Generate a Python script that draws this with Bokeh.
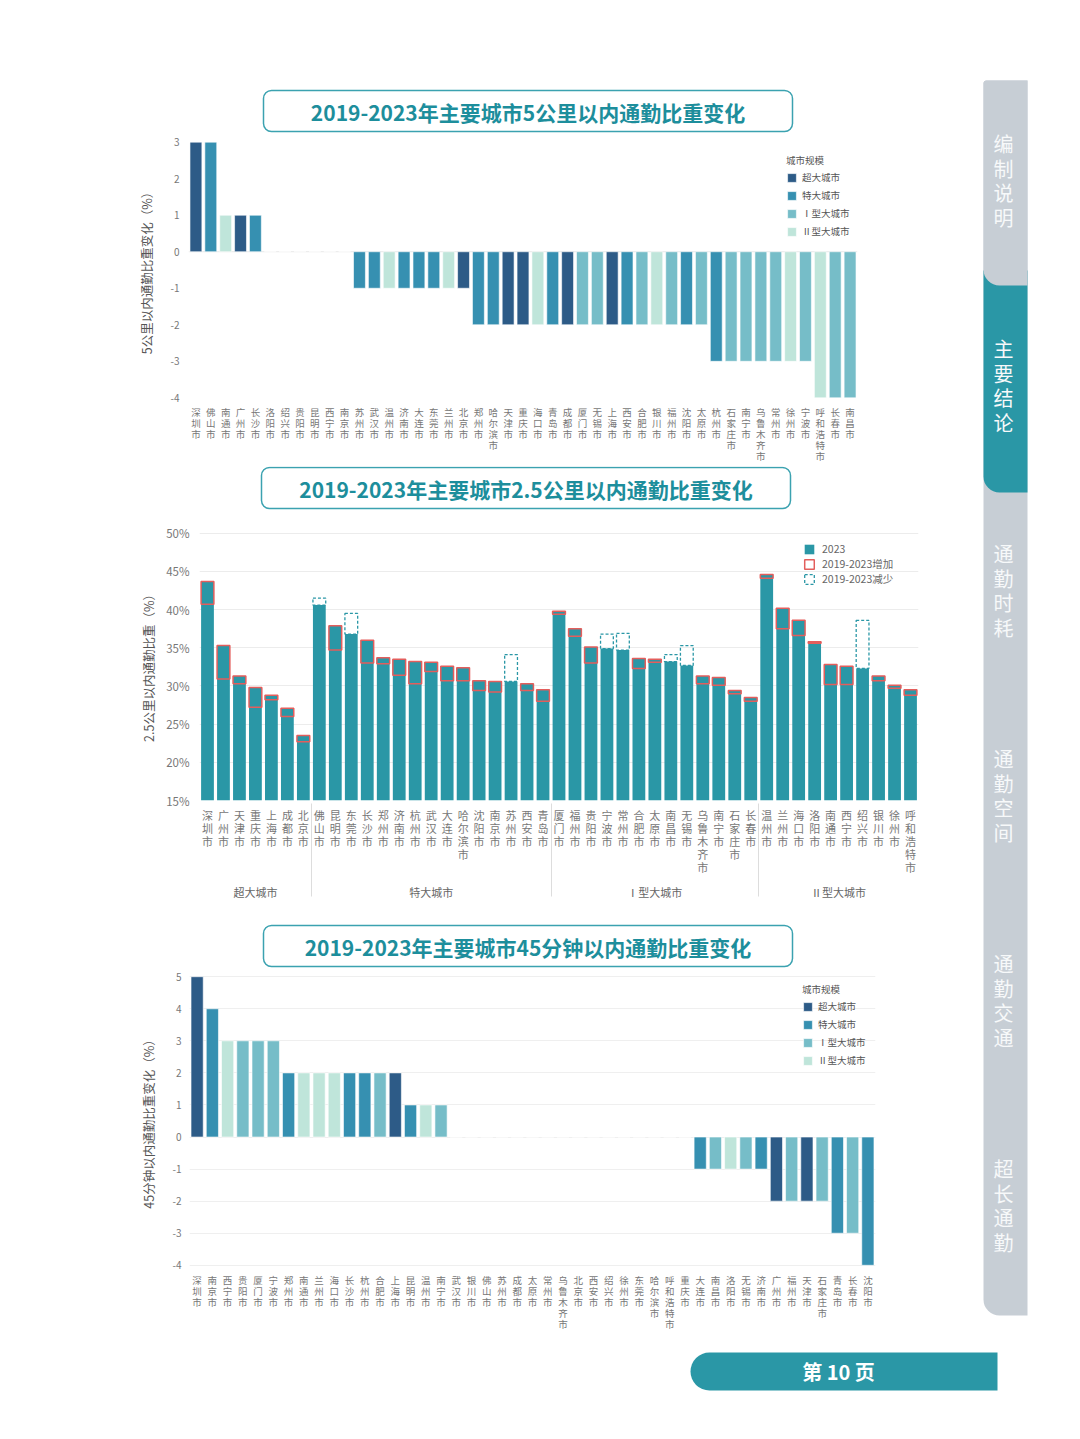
from bokeh.plotting import figure
from bokeh.models import (ColumnDataSource, CDSView, GroupFilter, BooleanFilter, FactorRange,
                          Range1d, SingleIntervalTicker, PrintfTickFormatter, Span)
from bokeh.layouts import column, row
from bokeh.embed import file_html
from bokeh.resources import INLINE
from bokeh.core.properties import value

FONT = "Noto Sans CJK SC"

# ---------------- data ----------------
SCALE_NAMES = ["超大城市", "特大城市", "Ⅰ型大城市", "Ⅱ型大城市"]
SCALE_COLORS = ["#2d5b87", "#3690b1", "#76bdc8", "#bfe5da"]

# chart 2 (2.5 km share, %), grouped by city scale
mega_cities = ["深圳市", "广州市", "天津市", "重庆市", "上海市", "成都市", "北京市"]
mega_2023 = [43.7, 35.3, 31.3, 29.8, 28.8, 27.1, 23.5]
mega_2019 = [40.7, 30.9, 30.3, 27.2, 28.2, 26.0, 22.7]
super_cities = ["佛山市", "昆明市", "东莞市", "长沙市", "郑州市", "济南市", "杭州市", "武汉市",
                "大连市", "哈尔滨市", "沈阳市", "南京市", "苏州市", "西安市", "青岛市"]
super_2023 = [40.6, 37.9, 36.8, 36.0, 33.7, 33.5, 33.2, 33.1, 32.6, 32.4, 30.7, 30.6, 30.6, 30.3, 29.5]
super_2019 = [41.5, 34.7, 39.5, 33.0, 32.9, 31.4, 30.3, 31.9, 30.7, 30.7, 29.4, 29.2, 34.1, 29.4, 28.0]
type1_cities = ["厦门市", "福州市", "贵阳市", "宁波市", "常州市", "合肥市", "太原市", "南昌市",
                "无锡市", "乌鲁木齐市", "南宁市", "石家庄市", "长春市"]
type1_2023 = [39.8, 37.5, 35.1, 34.9, 34.7, 33.6, 33.5, 33.2, 32.7, 31.3, 31.1, 29.4, 28.5]
type1_2019 = [39.4, 36.5, 33.0, 36.8, 36.9, 32.3, 33.1, 34.1, 35.3, 30.3, 30.1, 29.0, 28.0]
type2_cities = ["温州市", "兰州市", "海口市", "洛阳市", "南通市", "西宁市", "绍兴市", "银川市",
                "徐州市", "呼和浩特市"]
type2_2023 = [44.6, 40.2, 38.6, 35.8, 32.8, 32.6, 32.3, 31.3, 30.1, 29.5]
type2_2019 = [44.1, 37.5, 36.6, 35.6, 30.2, 30.2, 38.6, 30.7, 29.7, 28.8]

# chart 1 (5 km share change, percentage points)
cities1 = ["深圳市", "佛山市", "南通市", "广州市", "长沙市", "洛阳市", "绍兴市", "贵阳市", "昆明市",
           "西宁市", "南京市", "苏州市", "武汉市", "温州市", "济南市", "大连市", "东莞市", "兰州市",
           "北京市", "郑州市", "哈尔滨市", "天津市", "重庆市", "海口市", "青岛市", "成都市", "厦门市",
           "无锡市", "上海市", "西安市", "合肥市", "银川市", "福州市", "沈阳市", "太原市", "杭州市",
           "石家庄市", "南宁市", "乌鲁木齐市", "常州市", "徐州市", "宁波市", "呼和浩特市", "长春市", "南昌市"]
values1 = [3, 3, 1, 1, 1, 0, 0, 0, 0, 0, 0,
           -1, -1, -1, -1, -1, -1, -1, -1,
           -2, -2, -2, -2, -2, -2, -2, -2, -2, -2, -2, -2, -2, -2, -2, -2,
           -3, -3, -3, -3, -3, -3, -3,
           -4, -4, -4]

# chart 3 (45 min share change, percentage points)
cities3 = ["深圳市", "南京市", "西宁市", "贵阳市", "厦门市", "宁波市", "郑州市", "南通市", "兰州市",
           "海口市", "长沙市", "杭州市", "合肥市", "上海市", "昆明市", "温州市", "南宁市", "武汉市",
           "银川市", "佛山市", "苏州市", "成都市", "太原市", "常州市", "乌鲁木齐市", "北京市", "西安市",
           "绍兴市", "徐州市", "东莞市", "哈尔滨市", "呼和浩特市", "重庆市", "大连市", "南昌市", "洛阳市",
           "无锡市", "济南市", "广州市", "福州市", "天津市", "石家庄市", "青岛市", "长春市", "沈阳市"]
values3 = [5, 4, 3, 3, 3, 3, 2, 2, 2, 2, 2, 2, 2, 2, 1, 1, 1,
           0, 0, 0, 0, 0, 0, 0, 0, 0, 0, 0, 0, 0, 0, 0, 0,
           -1, -1, -1, -1, -1, -2, -2, -2, -2, -3, -3, -4]

GROUPS = [(SCALE_NAMES[0], mega_cities, mega_2023, mega_2019),
          (SCALE_NAMES[1], super_cities, super_2023, super_2019),
          (SCALE_NAMES[2], type1_cities, type1_2023, type1_2019),
          (SCALE_NAMES[3], type2_cities, type2_2023, type2_2019)]
SCALE_OF = {c: g for g, cs, _, _ in GROUPS for c in cs}

# ---------------- style ----------------
TEAL = "#2a97a6"
TITLE_TEAL = "#1d8e9c"
RED = "#e35e5c"
GREY_TXT = "#777777"
LW = 975  # left column width


def stack(s):
    return "\n".join(s)


def decor_fig(w, h, x0, x1, y0, y1):
    p = figure(width=w, height=h, x_range=Range1d(x0, x1), y_range=Range1d(y1, y0),
               output_backend="svg", toolbar_location=None,
               x_axis_location=None, y_axis_location=None,
               min_border=0, min_border_left=0, min_border_right=0,
               min_border_top=0, min_border_bottom=0)
    p.grid.visible = False
    p.outline_line_color = None
    p.background_fill_color = "white"
    p.border_fill_color = "white"
    return p


def title_fig(y0, y1, box_left, box_top, text):
    p = decor_fig(LW, y1 - y0, 0, LW, y0, y1)
    p.quad(left=box_left, right=box_left + 529, top=box_top, bottom=box_top + 41,
           fill_color="white", line_color="#3ba2b0", line_width=1.5, border_radius=8)
    p.text(x=[box_left + 264.5], y=[box_top + 21], text=[text], text_align="center",
           text_baseline="middle", text_font=value(FONT), text_font_style="bold",
           text_font_size="21px", text_color=TITLE_TEAL)
    return p


def style_axes(p, ylabel, tick_size, lab_standoff, maj_standoff, x_standoff, x_size, x_lh):
    for ax in p.axis:
        ax.axis_line_color = None
        ax.major_tick_line_color = None
        ax.minor_tick_line_color = None
        ax.major_tick_out = 0
        ax.major_label_text_font = FONT
        ax.major_label_text_color = GREY_TXT
    p.yaxis.major_label_text_font_size = tick_size
    p.yaxis.major_label_standoff = maj_standoff
    p.yaxis.axis_label = ylabel
    p.yaxis.axis_label_text_font = FONT
    p.yaxis.axis_label_text_font_size = "12.5px"
    p.yaxis.axis_label_text_font_style = "normal"
    p.yaxis.axis_label_text_color = "#555555"
    p.yaxis.axis_label_standoff = lab_standoff
    p.xaxis.major_label_text_font_size = x_size
    p.xaxis.major_label_text_line_height = x_lh
    p.xaxis.major_label_standoff = x_standoff
    p.xaxis.major_label_orientation = "horizontal"
    p.xgrid.visible = False
    p.outline_line_color = None


def style_scale_legend(p, loc):
    lg = p.legend[0]
    lg.title = "城市规模"
    lg.title_text_font = FONT
    lg.title_text_font_size = "9.5px"
    lg.title_text_font_style = "normal"
    lg.title_text_color = "#555555"
    lg.title_standoff = 3
    lg.label_text_font = FONT
    lg.label_text_font_size = "9.5px"
    lg.label_text_color = "#555555"
    lg.glyph_width = 11
    lg.glyph_height = 11
    lg.label_height = 11
    lg.label_standoff = 5
    lg.spacing = 4
    lg.padding = 4
    lg.margin = 0
    lg.location = loc
    lg.background_fill_alpha = 0
    lg.border_line_color = None


def scale_bar_chart(cities, values, yr, h, bl, br, bt, bb, loc):
    xs = [stack(c) for c in cities]
    src = ColumnDataSource(dict(x=xs, val=values, scale=[SCALE_OF[c] for c in cities]))
    p = figure(width=LW, height=h, x_range=FactorRange(factors=xs), y_range=Range1d(*yr),
               output_backend="svg", toolbar_location=None,
               min_border_left=bl, min_border_right=br, min_border_top=bt, min_border_bottom=bb)
    for name, col in zip(SCALE_NAMES, SCALE_COLORS):
        p.vbar(x="x", top="val", bottom=0, width=0.8, source=src,
               view=CDSView(filter=GroupFilter(column_name="scale", group=name)),
               fill_color=col, line_color="white", line_width=0.6, legend_label=name)
    p.yaxis.ticker = SingleIntervalTicker(interval=1)
    p.yaxis.formatter = PrintfTickFormatter(format="%d")
    style_scale_legend(p, loc)
    return p


# ---------------- chart 1 ----------------
t1 = title_fig(0, 134, 263, 90, "2019-2023年主要城市5公里以内通勤比重变化")
p1 = scale_bar_chart(cities1, values1, (-4.1, 3.1), 332, 188, 118, 4, 61, (598, 163))
style_axes(p1, "5公里以内通勤比重变化（%）", "10px", 11, 5, 3, "9.5px", 0.8)
p1.ygrid.visible = False
p1.add_layout(Span(location=0, dimension="width", line_color="#e8e8e8", line_width=1, level="underlay"))

# ---------------- chart 2 ----------------
t2 = title_fig(466, 522, 261, 467, "2019-2023年主要城市2.5公里以内通勤比重变化")
x2, v23, v19 = [], [], []
for g, cs, a, b in GROUPS:
    x2 += [(g, stack(c)) for c in cs]
    v23 += a
    v19 += b
src2 = ColumnDataSource(dict(x=x2, v23=v23, v19=v19))
p2 = figure(width=LW, height=383,
            x_range=FactorRange(factors=x2, group_padding=0, factor_padding=0, range_padding=0),
            y_range=Range1d(15, 50.5), output_backend="svg", toolbar_location=None,
            min_border_left=199, min_border_right=57, min_border_top=7, min_border_bottom=105)
p2.vbar(x="x", top="v23", bottom=0, width=0.8, source=src2, fill_color=TEAL,
        line_color=None, legend_label="2023")
inc = [a > b for a, b in zip(v23, v19)]
dec = [a < b for a, b in zip(v23, v19)]
p2.vbar(x="x", top="v23", bottom="v19", width=0.8, source=src2,
        view=CDSView(filter=BooleanFilter(inc)), fill_color=None, line_color=RED,
        line_width=1.5, legend_label="2019-2023增加")
p2.vbar(x="x", top="v19", bottom="v23", width=0.8, source=src2,
        view=CDSView(filter=BooleanFilter(dec)), fill_color=None, line_color=TEAL,
        line_width=1.3, line_dash="3 2", legend_label="2019-2023减少")
p2.yaxis.ticker = SingleIntervalTicker(interval=5)
p2.yaxis.formatter = PrintfTickFormatter(format="%d%%")
style_axes(p2, "2.5公里以内通勤比重（%）", "11.5px", 5, 6, 6, "11px", 0.82)
p2.ygrid.grid_line_color = "#ececec"
p2.xaxis.group_text_font = FONT
p2.xaxis.group_text_font_size = "11px"
p2.xaxis.group_text_font_style = "normal"
p2.xaxis.group_text_color = "#666666"
p2.xaxis.group_label_orientation = "horizontal"
p2.xaxis.separator_line_color = "#dddddd"
p2.xaxis.separator_line_width = 1
lg2 = p2.legend[0]
lg2.location = (604, 214)
lg2.label_text_font = FONT
lg2.label_text_font_size = "10.5px"
lg2.label_text_color = "#666666"
lg2.glyph_width = 12
lg2.glyph_height = 12
lg2.label_height = 12
lg2.label_standoff = 7
lg2.spacing = 0
lg2.padding = 4
lg2.margin = 0
lg2.background_fill_alpha = 0
lg2.border_line_color = None

# ---------------- chart 3 ----------------
t3 = title_fig(905, 970, 263, 925, "2019-2023年主要城市45分钟以内通勤比重变化")
p3 = scale_bar_chart(cities3, values3, (-4.1, 5.1), 372, 189, 100, 3, 74, (613, 201))
style_axes(p3, "45分钟以内通勤比重变化（%）", "10px", 11, 4, 4, "9.5px", 0.8)
p3.ygrid.grid_line_color = "#efefef"

# ---------------- side navigation ----------------
side = decor_fig(65, 1342, 975, 1040, 0, 1342)
SIDE_GREY = "#c7ced5"
side.quad(left=983, right=1027, top=80, bottom=1315, fill_color=SIDE_GREY, line_color=None,
          border_radius=(3, 0, 0, 16))
side.quad(left=983, right=1027, top=270, bottom=492, fill_color=TEAL, line_color=None,
          border_radius=(0, 0, 0, 16))
side.quad(left=983, right=1027, top=80, bottom=285, fill_color=SIDE_GREY, line_color=None,
          border_radius=(3, 0, 0, 16))
nav_items = ["编制说明", "主要结论", "通勤时耗", "通勤空间", "通勤交通", "超长通勤"]
nav_y = [180, 385, 590, 795, 1000, 1205]
side.text(x=[1003] * 6, y=nav_y, text=[stack(t) for t in nav_items], text_align="center",
          text_baseline="middle", text_font=value(FONT), text_font_size="20px",
          text_line_height=0.85, text_color="#f7f9fa")

# ---------------- footer ----------------
foot = decor_fig(1040, 80, 0, 1040, 1342, 1422)
foot.quad(left=690, right=997, top=1352, bottom=1390, fill_color=TEAL, line_color=None,
          border_radius=(19, 0, 0, 19))
foot.text(x=[838], y=[1371], text=["第 10 页"], text_align="center", text_baseline="middle",
          text_font=value(FONT), text_font_style="bold", text_font_size="20px", text_color="white")

left = column(row(t1), row(p1), row(t2), row(p2), row(t3), row(p3), spacing=0)
page = column(row(left, side, spacing=0), foot, spacing=0)

open("out.html", "w").write(file_html(page, INLINE))
